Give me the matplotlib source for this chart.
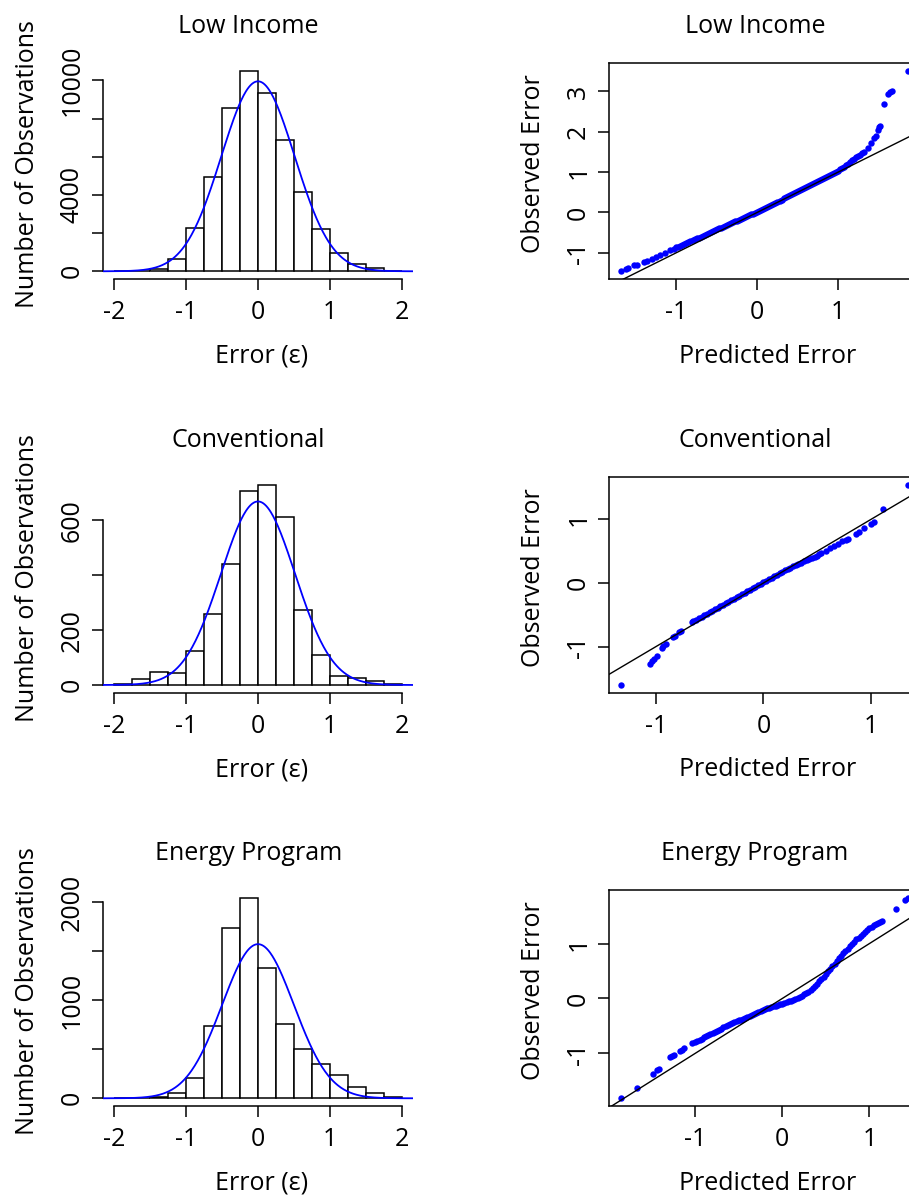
import numpy as np
import matplotlib
matplotlib.use("Agg")
import matplotlib.pyplot as plt

plt.rcParams['font.family'] = ['Open Sans', 'DejaVu Sans']
plt.rcParams['axes.unicode_minus'] = False
plt.rcParams['font.size'] = 18

# --- datos -------------------------------------------------------------
titles = ["Low Income", "Conventional", "Energy Program"]

bin_edges = [-2.0, -1.75, -1.5, -1.25, -1.0, -0.75, -0.5, -0.25, 0.0,
             0.25, 0.5, 0.75, 1.0, 1.25, 1.5, 1.75, 2.0]

low_counts = [5, 30, 120, 663, 2250, 4940, 8530, 10490,
              9350, 6890, 4140, 2230, 960, 385, 175, 35]
conv_counts = [5, 22, 49, 45, 125, 259, 442, 708,
               730, 613, 275, 111, 33, 26, 15, 5]
energy_counts = [0, 3, 14, 51, 211, 736, 1731, 2041,
                 1325, 753, 504, 351, 235, 119, 51, 17]

# curva normal ajustada: (desviacion, n)
low_fit = (0.51, 50880)
conv_fit = (0.516, 3461)
energy_fit = (0.50, 7875)

hist_yticks = [[0, 2000, 4000, 6000, 8000, 10000],
               [0, 200, 400, 600],
               [0, 500, 1000, 1500, 2000]]
hist_yticklabels = [['0', '', '4000', '', '', '10000'],
                    ['0', '200', '', '600'],
                    ['0', '', '1000', '', '2000']]
hist_xticks = [-2, -1, 0, 1, 2]

# QQ: error predicho vs observado
low_pred = [-1.686, -1.624, -1.599, -1.521, -1.488, -1.405, -1.364, -1.302,
            -1.252, -1.198, -1.136, -1.074, -1.033,
            -1.00, -0.95, -0.90, -0.85, -0.80, -0.75, -0.70, -0.65, -0.60,
            -0.55, -0.50, -0.45, -0.40, -0.35, -0.30, -0.25, -0.20, -0.15,
            -0.10, -0.05, 0.00, 0.05, 0.10, 0.15, 0.20, 0.25, 0.30, 0.35,
            0.40, 0.45, 0.50, 0.55, 0.60, 0.65, 0.70, 0.75, 0.80, 0.85,
            0.90, 0.95, 1.00, 1.05, 1.10, 1.15, 1.20, 1.25, 1.30,
            1.322, 1.364, 1.405, 1.446, 1.467, 1.488, 1.508, 1.521,
            1.570, 1.620, 1.645, 1.661, 1.860]
low_obs = [-1.460, -1.403, -1.370, -1.312, -1.295, -1.229, -1.196, -1.147,
           -1.106, -1.056, -0.998, -0.941, -0.899,
           -0.87, -0.825, -0.78, -0.735, -0.69, -0.645, -0.60, -0.555, -0.51,
           -0.465, -0.42, -0.375, -0.33, -0.288, -0.245, -0.201, -0.157, -0.113,
           -0.07, -0.027, 0.016, 0.062, 0.11, 0.162, 0.215, 0.268, 0.32, 0.372,
           0.428, 0.48, 0.532, 0.583, 0.635, 0.685, 0.735, 0.785, 0.835, 0.885,
           0.935, 0.985, 1.035, 1.095, 1.17, 1.25, 1.33, 1.40, 1.47,
           1.510, 1.592, 1.716, 1.840, 1.898, 2.046, 2.129, 2.145,
           2.690, 2.937, 2.995, 3.02, 3.507]
# banda densa (lecturas intermedias)
low_pred_band = [-0.975, -0.925, -0.875, -0.825, -0.775, -0.725, -0.675, -0.625,
                 -0.575, -0.525, -0.475, -0.425, -0.375, -0.325, -0.275, -0.225,
                 -0.175, -0.125, -0.075, -0.025, 0.025, 0.075, 0.125, 0.175,
                 0.225, 0.275, 0.325, 0.375, 0.425, 0.475, 0.525, 0.575, 0.625,
                 0.675, 0.725, 0.775, 0.825, 0.875, 0.925, 0.975, 1.025, 1.075,
                 1.125, 1.175, 1.225, 1.275]
low_obs_band = [-0.848, -0.803, -0.758, -0.713, -0.668, -0.623, -0.578, -0.533,
                -0.488, -0.443, -0.398, -0.353, -0.309, -0.267, -0.223, -0.179,
                -0.135, -0.092, -0.049, -0.006, 0.039, 0.086, 0.136, 0.189,
                0.242, 0.294, 0.346, 0.40, 0.454, 0.506, 0.558, 0.609, 0.66,
                0.71, 0.76, 0.81, 0.86, 0.91, 0.96, 1.01, 1.065, 1.13,
                1.21, 1.29, 1.365, 1.435]

conv_pred = [-1.325, -1.051, -1.033, -1.017, -0.992, -0.946, -0.930, -0.908,
             -0.837, -0.821, -0.781, -0.768, -0.659,
             -0.65, -0.60, -0.55, -0.50, -0.45, -0.40, -0.35, -0.30, -0.25,
             -0.20, -0.15, -0.10, -0.05, 0.00, 0.05, 0.10, 0.15, 0.20, 0.25,
             0.30, 0.35, 0.40, 0.45, 0.50,
             0.538, 0.579, 0.619, 0.656, 0.694, 0.734, 0.765, 0.781,
             0.858, 0.883, 0.936, 0.998, 1.023, 1.107, 1.341]
conv_obs = [-1.601, -1.276, -1.228, -1.197, -1.150, -1.018, -0.987, -0.955,
            -0.850, -0.835, -0.766, -0.751, -0.609,
            -0.60, -0.553, -0.505, -0.458, -0.41, -0.362, -0.315, -0.268, -0.222,
            -0.176, -0.13, -0.083, -0.03, 0.015, 0.062, 0.11, 0.155, 0.20, 0.24,
            0.28, 0.32, 0.36, 0.395, 0.43,
            0.472, 0.509, 0.546, 0.588, 0.619, 0.661, 0.682, 0.698,
            0.777, 0.798, 0.856, 0.934, 0.955, 1.160, 1.543]
conv_pred_band = [-0.625, -0.575, -0.525, -0.475, -0.425, -0.375, -0.325, -0.275,
                  -0.225, -0.175, -0.125, -0.075, -0.025, 0.025, 0.075, 0.125,
                  0.175, 0.225, 0.275, 0.325, 0.375, 0.425, 0.475, 0.52]
conv_obs_band = [-0.577, -0.529, -0.482, -0.434, -0.386, -0.339, -0.292, -0.245,
                 -0.199, -0.153, -0.107, -0.057, -0.008, 0.038, 0.086, 0.133,
                 0.178, 0.22, 0.26, 0.30, 0.34, 0.378, 0.413, 0.455]

energy_pred = [-1.854, -1.670, -1.479, -1.441, -1.421, -1.287, -1.261, -1.241,
               -1.172, -1.146, -1.126, -1.031, -1.000,
               -0.95, -0.90, -0.85, -0.80, -0.75, -0.70, -0.65, -0.60, -0.55,
               -0.50, -0.45, -0.40, -0.35, -0.30, -0.25, -0.20, -0.15, -0.10,
               -0.05, 0.00, 0.05, 0.10, 0.15, 0.20, 0.25, 0.30, 0.35, 0.40,
               0.45, 0.50, 0.55, 0.60, 0.65, 0.70, 0.75, 0.80, 0.85, 0.90,
               0.95, 1.00, 1.05, 1.10, 1.15,
               1.310, 1.414, 1.441]
energy_obs = [-1.818, -1.635, -1.368, -1.301, -1.283, -1.064, -1.046, -1.027,
              -0.954, -0.930, -0.906, -0.815, -0.790,
              -0.75, -0.71, -0.668, -0.628, -0.588, -0.55, -0.505, -0.468, -0.434,
              -0.40, -0.367, -0.334, -0.30, -0.265, -0.232, -0.198, -0.165, -0.14,
              -0.117, -0.093, -0.067, -0.04, -0.01, 0.03, 0.075, 0.125, 0.19, 0.265,
              0.355, 0.45, 0.545, 0.635, 0.73, 0.82, 0.91, 0.995, 1.075, 1.145,
              1.215, 1.275, 1.335, 1.38, 1.42,
              1.629, 1.793, 1.830]
energy_pred_band = [-0.975, -0.925, -0.875, -0.825, -0.775, -0.725, -0.675, -0.625,
                    -0.575, -0.525, -0.475, -0.425, -0.375, -0.325, -0.275, -0.225,
                    -0.175, -0.125, -0.075, -0.025, 0.025, 0.075, 0.125, 0.175,
                    0.225, 0.275, 0.325, 0.375, 0.425, 0.475, 0.525, 0.575, 0.625,
                    0.675, 0.725, 0.775, 0.825, 0.875, 0.925, 0.975, 1.025, 1.075,
                    1.125]
energy_obs_band = [-0.77, -0.73, -0.689, -0.648, -0.608, -0.569, -0.528, -0.487,
                   -0.451, -0.417, -0.384, -0.351, -0.317, -0.283, -0.249, -0.215,
                   -0.182, -0.152, -0.129, -0.105, -0.08, -0.054, -0.025, 0.01,
                   0.052, 0.10, 0.157, 0.227, 0.31, 0.40, 0.497, 0.59, 0.682,
                   0.775, 0.865, 0.952, 1.035, 1.11, 1.18, 1.245, 1.305, 1.358,
                   1.40]

qq_yticks = [[-1, 0, 1, 2, 3], [-1, 0, 1], [-1, 0, 1]]
qq_xticks = [-1, 0, 1]

# --- disposicion (pixeles) --------------------------------------------
W, H, DPI = 909, 1197, 100
ROW_TOPS = [63.0, 476.7, 890.0]
AX_W, AX_H = 310.0, 216.3
HIST_LEFT, QQ_LEFT = 103.0, 609.3
BLUE = '#0000FF'
LW = 1.1


def px_axes(fig, left, top):
    return fig.add_axes([left / W, 1 - (top + AX_H) / H, AX_W / W, AX_H / H])


def pad_range(vals, frac=0.04):
    lo, hi = min(vals), max(vals)
    r = hi - lo
    return lo - frac * r, hi + frac * r


def style_ticks(ax):
    ax.tick_params(axis='both', length=8, width=LW, labelsize=18, color='black')
    ax.tick_params(axis='x', pad=7)
    ax.tick_params(axis='y', pad=5)
    plt.setp(ax.get_yticklabels(), rotation=90, va='center')


def add_labels(ax, title, xlabel, ylabel):
    ax.text(0.47, 1.139, title, transform=ax.transAxes, ha='center',
            va='baseline', fontsize=18)
    ax.text(0.51, -0.386, xlabel, transform=ax.transAxes, ha='center',
            va='baseline', fontsize=18)
    ax.text(-0.224, 0.533, ylabel, transform=ax.transAxes, ha='center',
            va='baseline', rotation=90, rotation_mode='anchor', fontsize=18)


fig = plt.figure(figsize=(W / DPI, H / DPI), dpi=DPI)

counts_all = [low_counts, conv_counts, energy_counts]
fits = [low_fit, conv_fit, energy_fit]
qq_data = [(low_pred + low_pred_band, low_obs + low_obs_band),
           (conv_pred + conv_pred_band, conv_obs + conv_obs_band),
           (energy_pred + energy_pred_band, energy_obs + energy_obs_band)]

edges = np.array(bin_edges)
widths = np.diff(edges)
xlim_hist = (-2.16, 2.16)

for i in range(3):
    # histograma
    ax = px_axes(fig, HIST_LEFT, ROW_TOPS[i])
    counts = counts_all[i]
    ax.bar(edges[:-1], counts, width=widths, align='edge', color='white',
           edgecolor='black', linewidth=LW)
    sd, n = fits[i]
    xs = np.linspace(xlim_hist[0], xlim_hist[1], 400)
    ys = n * widths[0] * np.exp(-0.5 * (xs / sd) ** 2) / (sd * np.sqrt(2 * np.pi))
    ax.plot(xs, ys, color=BLUE, lw=1.3, zorder=3)
    ax.set_xlim(*xlim_hist)
    ymax = max(counts)
    ax.set_ylim(-0.04 * ymax, 1.04 * ymax)
    ax.set_xticks(hist_xticks)
    ax.set_yticks(hist_yticks[i])
    ax.set_yticklabels(hist_yticklabels[i])
    for s in ['top', 'right']:
        ax.spines[s].set_visible(False)
    ax.spines['left'].set_bounds(0, hist_yticks[i][-1])
    ax.spines['bottom'].set_bounds(hist_xticks[0], hist_xticks[-1])
    for s in ['left', 'bottom']:
        ax.spines[s].set_linewidth(LW)
    style_ticks(ax)
    add_labels(ax, titles[i], "Error (\u03b5)", "Number of Observations")

    # grafico QQ
    ax = px_axes(fig, QQ_LEFT, ROW_TOPS[i])
    pred, obs = qq_data[i]
    ax.plot(pred, obs, 'o', color=BLUE, ms=4.6, mec='none', zorder=2)
    ax.axline((0, 0), slope=1, color='black', lw=1.0, zorder=3)
    ax.set_xlim(*pad_range(pred))
    ax.set_ylim(*pad_range(obs))
    ax.set_xticks(qq_xticks)
    ax.set_yticks(qq_yticks[i])
    for s in ax.spines.values():
        s.set_linewidth(LW)
    style_ticks(ax)
    add_labels(ax, titles[i], "Predicted Error", "Observed Error")

fig.savefig("out.png", dpi=DPI)
